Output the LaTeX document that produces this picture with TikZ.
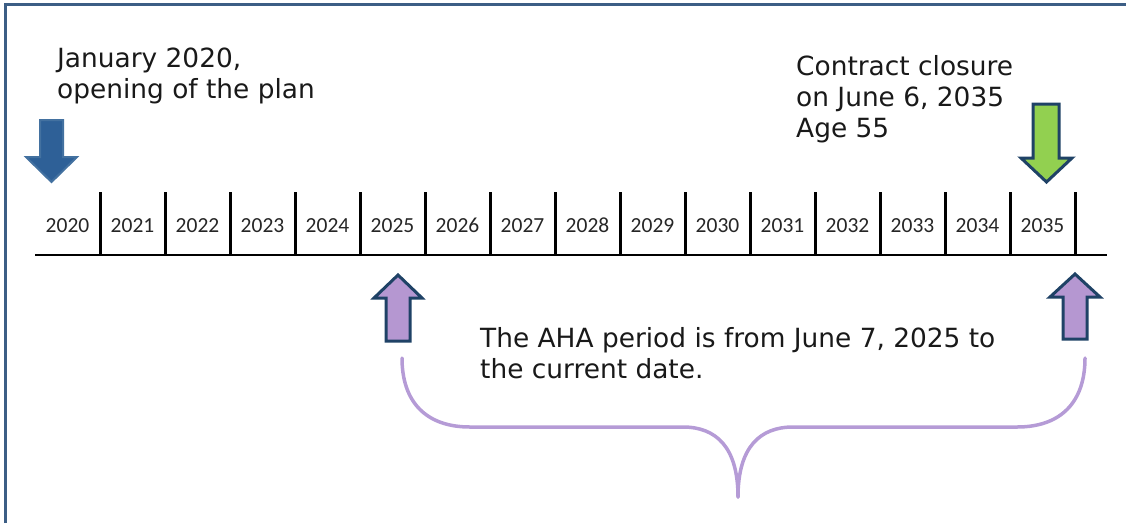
\documentclass[tikz,border=0pt]{standalone}
\usepackage{fontspec}
\setmainfont{DejaVu Sans}
\newfontfamily\yearfont{Carlito}
\definecolor{framecol}{HTML}{3C5E85}
\definecolor{bluefill}{HTML}{2E6097}
\definecolor{blueline}{HTML}{4371A0}
\definecolor{greenfill}{HTML}{92D050}
\definecolor{lilacfill}{HTML}{B597D1}
\definecolor{navyline}{HTML}{1F4266}
\definecolor{bracecol}{HTML}{B59BD6}
\tikzset{
  year/.style={font=\yearfont\fontsize{21.5}{24}\selectfont, text=black!85, anchor=base, inner sep=0pt},
  note/.style={font=\fontsize{26.4}{31}\selectfont, text=black!90, align=left, anchor=north west, inner sep=0pt},
  blockarrow/.style={line width=3pt, line join=miter, draw=navyline},
}
\begin{document}
\begin{tikzpicture}[x=1pt,y=-1pt]
  \useasboundingbox (0,0) rectangle (1126,523);
  % frame
  \draw[framecol, line width=2.5pt] (5.5,523) -- (5.5,4.5) -- (1126,4.5);
  % texts
  \node[note] (opening) at (57,48) {January 2020,\\opening of the plan};
  \node[note] (closure) at (796,55) {Contract closure\\on June 6, 2035\\Age 55};
  \node[note] (aha) at (480,327) {The AHA period is from June 7, 2025 to\\the current date.};
  % time line
  \draw[line width=2.5pt] (35,255) -- (1107,255);
  \foreach \k in {0,...,15}
    \draw[line width=3pt] ({100+65*\k},192) -- ({100+65*\k},255);
  \foreach \k in {0,...,15} {
    \pgfmathtruncatemacro\yr{2020+\k}
    \node[year] (y\yr) at ({67.5+65*\k},232) {\yr};
  }
  % block arrows
  \draw[fill=bluefill, draw=blueline, line width=2pt, line join=miter]
    (40,120) -- (63,120) -- (63,157) -- (77,157) -- (51.5,182) -- (26,157) -- (40,157) -- cycle;
  \draw[blockarrow, fill=greenfill]
    (1033,104) -- (1059,104) -- (1059,158) -- (1072,158) -- (1046.5,182) -- (1021,158) -- (1033,158) -- cycle;
  \draw[blockarrow, fill=lilacfill]
    (386,341) -- (410,341) -- (410,298) -- (422,298) -- (398,275) -- (374,298) -- (386,298) -- cycle;
  \draw[blockarrow, fill=lilacfill]
    (1063,339) -- (1087,339) -- (1087,297) -- (1100,297) -- (1075,274) -- (1050,297) -- (1063,297) -- cycle;
  % brace
  \draw[bracecol, line width=3.5pt, line cap=round]
    (402,358) .. controls (402,402) and (426,427) .. (470,427) -- (683,427)
    .. controls (716,427) and (738,447) .. (738,497);
  \draw[bracecol, line width=3.5pt, line cap=round]
    (1085,358) .. controls (1085,402) and (1061,427) .. (1017,427) -- (793,427)
    .. controls (760,427) and (738,447) .. (738,497);
\end{tikzpicture}
\end{document}
